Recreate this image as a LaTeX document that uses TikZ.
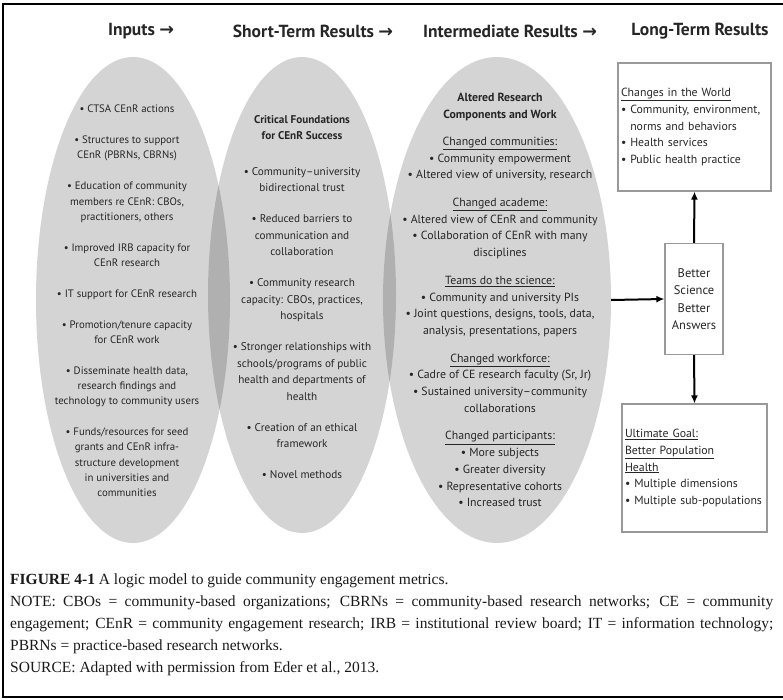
\documentclass[tikz,border=0pt]{standalone}
\usepackage{fontspec}
\setmainfont{PT Sans}
\newfontfamily\capfont{Liberation Serif}
\newfontfamily\arrowfont{DejaVu Sans}
\usetikzlibrary{shapes.geometric,arrows.meta}

\begin{document}
\begin{tikzpicture}[x=1pt,y=-1pt]
	\tikzstyle{every node}+=[inner sep=0pt]
	\tikzstyle{oval}=[ellipse, fill=black, fill opacity=0.17]
	\tikzstyle{head}=[font=\fontsize{17.5}{20}\selectfont\bfseries, text=black!85]
	\tikzstyle{ovaltext}=[align=center, text=black!85]
	\tikzstyle{resultbox}=[draw=black!40, line width=1.2pt, text=black!85, font=\fontsize{11.8}{16.7}\selectfont]
	\tikzstyle{flow}=[black, line width=2pt, -{Latex[length=8pt,width=7pt]}]
	\useasboundingbox (0,0) rectangle (783,700);
	\draw [black, line width=2pt] (783,4) -- (3,4) -- (3,697) -- (783,697);
	\node [head] (inputsHead) at (141,31) {Inputs {\arrowfont→}};
	\node [head] (shortHead) at (313,31) {Short-Term Results {\arrowfont→}};
	\node [head] (intermHead) at (510,31) {Intermediate Results {\arrowfont→}};
	\node [head] (longHead) at (700,31) {Long-Term Results};
	\node [oval, minimum width=194pt, minimum height=486pt] (inputs) at (133,300) {};
	\node [oval, minimum width=188pt, minimum height=476pt] (shortterm) at (302,295) {};
	\node [oval, minimum width=228pt, minimum height=486pt] (interm) at (497,300) {};
	\node [ovaltext, font=\fontsize{10.8}{15.3}\selectfont] (inputsText) at (127,301) {%
		\textbullet{} CTSA CEnR actions\\[15.5pt]
		\textbullet{} Structures to support\\CEnR (PBRNs, CBRNs)\\[15.5pt]
		\textbullet{} Education of community\\members re CEnR: CBOs,\\practitioners, others\\[15.5pt]
		\textbullet{} Improved IRB capacity for\\CEnR research\\[15.5pt]
		\textbullet{} IT support for CEnR research\\[15.5pt]
		\textbullet{} Promotion/tenure capacity\\for CEnR work\\[15.5pt]
		\textbullet{} Disseminate health data,\\research findings and\\technology to community users\\[15.5pt]
		\textbullet{} Funds/resources for seed\\grants and CEnR infra-\\structure development\\in universities and\\communities};
	\node [ovaltext, font=\fontsize{11.2}{16.5}\selectfont] (shortText) at (302,297) {%
		\textbf{Critical Foundations}\\\textbf{for CEnR Success}\\[19pt]
		\textbullet{} Community--university\\bidirectional trust\\[14.5pt]
		\textbullet{} Reduced barriers to\\communication and\\collaboration\\[14.5pt]
		\textbullet{} Community research\\capacity: CBOs, practices,\\hospitals\\[14.5pt]
		\textbullet{} Stronger relationships with\\schools/programs of public\\health and departments of\\health\\[14.5pt]
		\textbullet{} Creation of an ethical\\framework\\[14.5pt]
		\textbullet{} Novel methods};
	\node [ovaltext, font=\fontsize{11.8}{16.7}\selectfont] (intermText) at (500,300) {%
		\textbf{Altered Research}\\\textbf{Components and Work}\\[10.5pt]
		\underline{Changed communities:}\\\textbullet{} Community empowerment\\\textbullet{} Altered view of university, research\\[11pt]
		\underline{Changed academe:}\\\textbullet{} Altered view of CEnR and community\\\textbullet{} Collaboration of CEnR with many\\disciplines\\[11pt]
		\underline{Teams do the science:}\\\textbullet{} Community and university PIs\\\textbullet{} Joint questions, designs, tools, data,\\analysis, presentations, papers\\[11pt]
		\underline{Changed workforce:}\\\textbullet{} Cadre of CE research faculty (Sr, Jr)\\\textbullet{} Sustained university--community\\collaborations\\[11pt]
		\underline{Changed participants:}\\\textbullet{} More subjects\\\textbullet{} Greater diversity\\\textbullet{} Representative cohorts\\\textbullet{} Increased trust};
	\node [resultbox, align=left, minimum width=151pt, minimum height=128pt, text width=147pt, inner sep=3pt] (world) at (694.5,127) {%
		\underline{Changes in the World}\\
		\textbullet{} Community, environment,\\
		\hphantom{\textbullet{} }norms and behaviors\\
		\textbullet{} Health services\\
		\textbullet{} Public health practice};
	\node [resultbox, align=center, minimum width=58pt, minimum height=111pt, font=\fontsize{12.5}{17.3}\selectfont] (better) at (694,299) {Better\\Science\\Better\\Answers};
	\node [resultbox, align=left, minimum width=145pt, minimum height=128pt, text width=139pt, inner sep=3pt] (goal) at (694.5,468) {%
		\underline{Ultimate Goal:}\\
		\underline{Better Population}\\
		\underline{Health}\\
		\textbullet{} Multiple dimensions\\
		\textbullet{} Multiple sub-populations};
	\draw [flow] (interm.east) -- (better.west);
	\draw [flow] (better.north) -- (world.south);
	\draw [flow] (better.south) -- (goal.north);
	\node [anchor=north west, text width=763pt, align=justify, text=black!90, font=\capfont\fontsize{15.5}{22}\selectfont] (caption) at (10,574) {%
		\textbf{FIGURE 4-1} A logic model to guide community engagement metrics.\\
		NOTE: CBOs = community-based organizations; CBRNs = community-based research networks; CE = community\linebreak
		engagement; CEnR = community engagement research; IRB = institutional review board; IT = information technology;\linebreak
		PBRNs = practice-based research networks.\\
		SOURCE: Adapted with permission from Eder et al., 2013.};
\end{tikzpicture}
\end{document}
